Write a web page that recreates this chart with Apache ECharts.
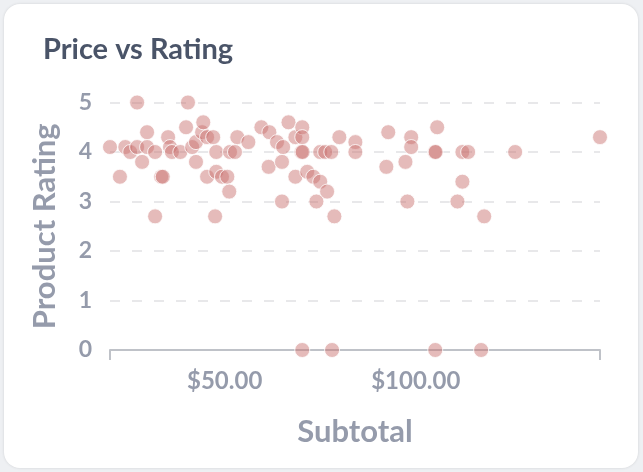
<!DOCTYPE html>
<html>
<head>
<meta charset="utf-8">
<script src="https://cdn.jsdelivr.net/npm/echarts@6/dist/echarts.min.js"></script>
<style>
  html, body { margin: 0; padding: 0; background: #eef0f3; width: 643px; height: 472px; overflow: hidden; }
  #card { position: absolute; left: 4px; top: 4px; width: 634px; height: 464px; background: #fff;
          border-radius: 16px; box-shadow: 0 0 3px rgba(0,0,0,0.12); }
  #chart { position: absolute; left: 0; top: 0; width: 643px; height: 472px; }
</style>
</head>
<body>
<div id="card"></div>
<div id="chart"></div>
<script>
const subtotals = [
  20.0, 22.6, 24.0, 25.3, 27.1, 27.1, 28.4, 29.7, 29.7, 31.8, 31.8, 33.4, 33.8,
  35.2, 35.7, 36.2, 38.4, 39.9, 40.4, 41.5, 42.5, 42.5, 44.1, 44.4, 45.4, 47.0,
  45.4, 47.8, 47.8, 47.5, 49.3, 50.7, 51.2, 51.4, 52.7, 53.3, 56.2, 59.6, 61.7,
  61.5, 63.7, 65.3, 66.7, 65.0, 65.0, 68.5, 68.5, 70.3, 70.3, 70.1, 70.4, 71.6,
  73.2, 75.0, 76.8, 74.0, 75.0, 76.3, 77.9, 78.7, 80.0, 84.2, 84.2, 92.8, 92.3,
  98.8, 98.8, 97.3, 97.8, 105.6, 105.0, 105.2, 112.2, 113.7, 112.2, 110.9, 117.9,
  126.0, 148.2, 70.3, 78.1, 105.1, 117.1
];
const ratings = [
  4.1, 3.5, 4.1, 4.0, 5.0, 4.1, 3.8, 4.4, 4.1, 4.0, 2.7, 3.5, 3.5,
  4.3, 4.1, 4.0, 4.0, 4.5, 5.0, 4.1, 4.2, 3.8, 4.4, 4.6, 4.3, 4.3,
  3.5, 4.0, 3.6, 2.7, 3.5, 3.5, 3.2, 4.0, 4.0, 4.3, 4.2, 4.5, 4.4,
  3.7, 4.2, 4.1, 4.6, 3.8, 3.0, 4.3, 3.5, 4.5, 4.3, 4.0, 4.0, 3.6,
  3.5, 3.4, 3.2, 3.0, 4.0, 4.0, 4.0, 2.7, 4.3, 4.2, 4.0, 4.4, 3.7,
  4.3, 4.1, 3.8, 3.0, 4.5, 4.0, 4.0, 4.0, 4.0, 3.4, 3.0, 2.7,
  4.0, 4.3, 0, 0, 0, 0
];
const xTickLabels = [50, 100];
const yTicks = [0, 1, 2, 3, 4, 5];
const titleText = 'Price vs Rating';
const xName = 'Subtotal';
const yName = 'Product Rating';

const points = subtotals.map((s, i) => [s, ratings[i]]);
const xMin = Math.min(...subtotals);
const xMax = Math.max(...subtotals);

const chart = echarts.init(document.getElementById('chart'), null, { renderer: 'canvas' });
const font = 'Lato, "Open Sans", sans-serif';
const gray = '#959bab';
chart.setOption({
  animation: false,
  title: {
    text: titleText, left: 38, top: 30,
    textStyle: { fontFamily: font, fontSize: 29, fontWeight: 'bold', color: '#4a5468' }
  },
  grid: { left: 110, right: 43, top: 102.5, bottom: 122, containLabel: false, outerBoundsMode: 'none' },
  xAxis: {
    type: 'value', min: xMin, max: xMax,
    name: xName, nameLocation: 'middle', nameGap: 66,
    nameTextStyle: { fontFamily: font, fontSize: 31, fontWeight: 'bold', color: gray },
    axisLine: { show: true, lineStyle: { color: '#bfc2c8', width: 2 } },
    axisTick: { show: true, length: 10, customValues: [xMin, xMax], lineStyle: { color: '#bfc2c8', width: 2 } },
    axisLabel: {
      customValues: xTickLabels, margin: 19,
      fontFamily: font, fontSize: 24, fontWeight: 'bold', color: gray,
      formatter: v => '$' + v.toFixed(2)
    },
    splitLine: { show: false }
  },
  yAxis: {
    type: 'value', min: yTicks[0], max: yTicks[yTicks.length - 1], interval: 1,
    name: yName, nameLocation: 'middle', nameGap: 50,
    nameTextStyle: { fontFamily: font, fontSize: 31, fontWeight: 'bold', color: gray },
    axisLine: { show: false }, axisTick: { show: false },
    axisLabel: { margin: 18, fontFamily: font, fontSize: 23, fontWeight: 'bold', color: gray },
    splitLine: { show: true, lineStyle: { color: '#e8e8ea', width: 2, type: [10, 12] } }
  },
  series: [{
    type: 'scatter',
    data: points,
    symbolSize: 15,
    itemStyle: { color: 'rgba(200,113,110,0.6)', borderColor: '#ffffff', borderWidth: 1 }
  }]
});
</script>
</body>
</html>
